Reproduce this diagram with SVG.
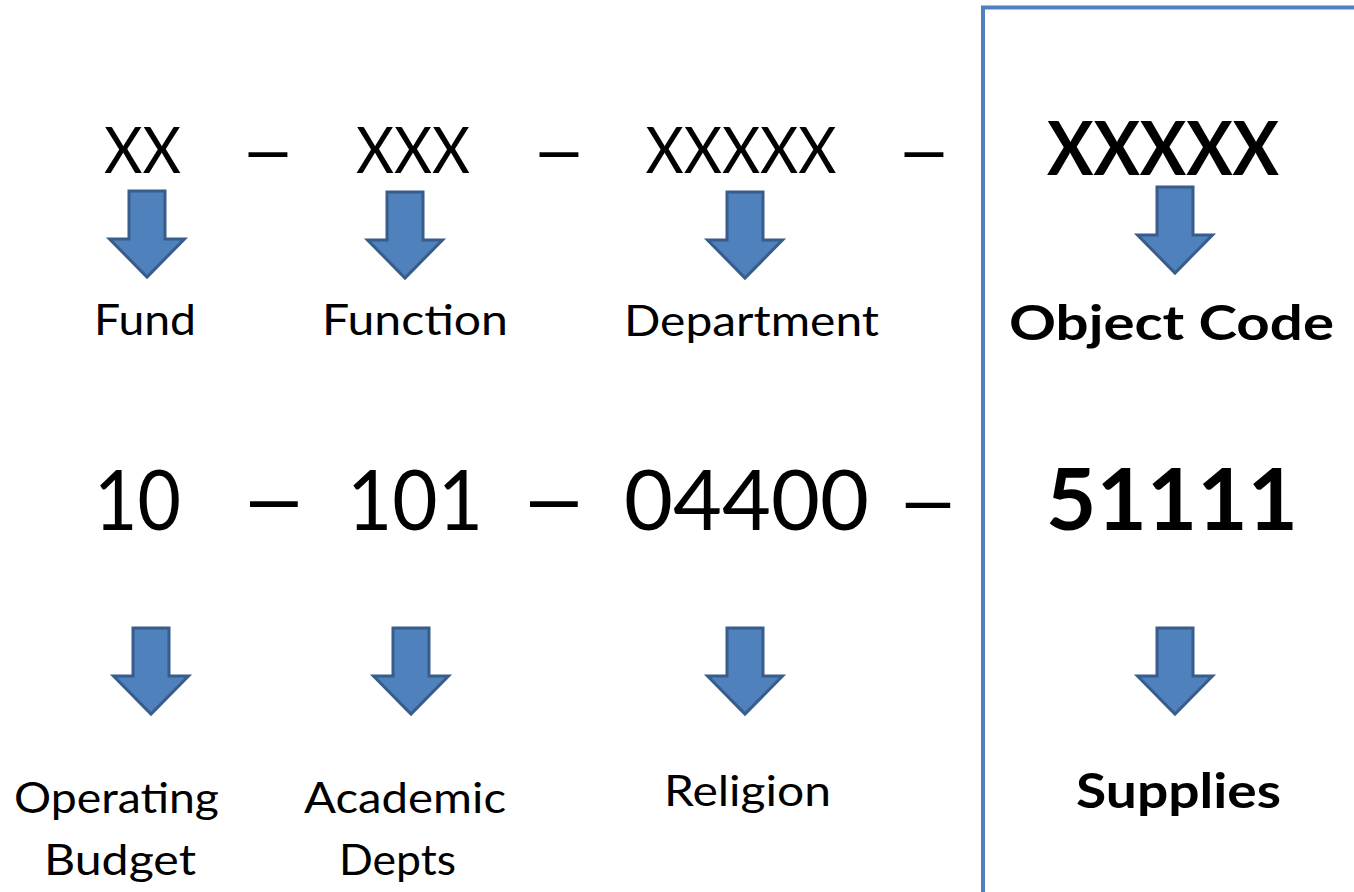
<svg xmlns="http://www.w3.org/2000/svg" xmlns:xlink="http://www.w3.org/1999/xlink" width="1354" height="892" viewBox="0 0 1354 892">
  <style>
    text { font-family: Lato, "Open Sans", "Liberation Sans", sans-serif; fill: #000; text-anchor: middle; }
    .code { font-size: 63px; }
    .codeB { font-size: 74px; font-weight: bold; }
    .lbl { font-size: 42px; }
    .lblB { font-size: 47px; font-weight: bold; }
    .num { font-size: 84px; }
    .numB { font-size: 86px; font-weight: bold; }
    .dash { font-family: "Liberation Sans", Arial, sans-serif; }
    .arrow { fill: #4F81BD; stroke: #385D8A; stroke-width: 3; stroke-linejoin: miter; }
    .frame { fill: none; stroke: #4F81BD; stroke-width: 4; }
  </style>
  <defs>
    <!-- block down-arrow, origin at top centre of the shaft -->
    <path id="down" class="arrow" d="M-18,0 L18,0 L18,48 L37.5,48 L0,86 L-37.5,48 L-18,48 Z"/>
  </defs>
  <rect width="1354" height="892" fill="#fff"/>

  <!-- object code frame -->
  <g id="frame">
    <path class="frame" d="M983,892 L983,7.5 L1354,7.5"/>
  </g>

  <!-- code pattern row -->
  <g id="pattern">
    <text class="code" x="142.5" y="173" textLength="77" lengthAdjust="spacingAndGlyphs">XX</text>
    <text class="dash" x="268" y="173" font-size="70">–</text>
    <text class="code" x="413" y="173" textLength="114" lengthAdjust="spacingAndGlyphs">XXX</text>
    <text class="dash" x="559" y="173" font-size="70">–</text>
    <text class="code" x="741" y="173" textLength="191" lengthAdjust="spacingAndGlyphs">XXXXX</text>
    <text class="dash" x="924" y="173" font-size="70">–</text>
    <text class="codeB" x="1163" y="175" textLength="232" lengthAdjust="spacingAndGlyphs">XXXXX</text>
  </g>

  <!-- segment names -->
  <g id="fund-label"><text class="lbl" x="145" y="335" textLength="102" lengthAdjust="spacingAndGlyphs">Fund</text></g>
  <g id="function-label"><text class="lbl" x="415" y="335" textLength="186" lengthAdjust="spacingAndGlyphs">Function</text></g>
  <g id="department-label"><text class="lbl" x="751.5" y="336" textLength="255" lengthAdjust="spacingAndGlyphs">Department</text></g>
  <g id="object-label"><text class="lblB" x="1171.5" y="340" textLength="325" lengthAdjust="spacingAndGlyphs">Object Code</text></g>

  <!-- example account number -->
  <g id="example">
    <text class="num" x="137.5" y="530" textLength="87" lengthAdjust="spacingAndGlyphs">10</text>
    <text class="dash" x="274" y="526" font-size="86">–</text>
    <text class="num" x="415" y="530" textLength="136" lengthAdjust="spacingAndGlyphs">101</text>
    <text class="dash" x="554" y="526" font-size="86">–</text>
    <text class="num" x="746.5" y="530" textLength="245" lengthAdjust="spacingAndGlyphs">04400</text>
    <text class="dash" x="928" y="526" font-size="80">–</text>
    <text class="numB" x="1172" y="530" textLength="252" lengthAdjust="spacingAndGlyphs">51111</text>
  </g>

  <!-- example meanings -->
  <g id="operating-budget">
    <text class="lbl" x="116.5" y="813" textLength="205" lengthAdjust="spacingAndGlyphs">Operating</text>
    <text class="lbl" x="120" y="875" textLength="152" lengthAdjust="spacingAndGlyphs">Budget</text>
  </g>
  <g id="academic-depts">
    <text class="lbl" x="405" y="813" textLength="202" lengthAdjust="spacingAndGlyphs">Academic</text>
    <text class="lbl" x="397.5" y="875" textLength="117" lengthAdjust="spacingAndGlyphs">Depts</text>
  </g>
  <g id="religion"><text class="lbl" x="747.5" y="806" textLength="167" lengthAdjust="spacingAndGlyphs">Religion</text></g>
  <g id="supplies"><text class="lblB" x="1178.5" y="808" textLength="205" lengthAdjust="spacingAndGlyphs">Supplies</text></g>

  <!-- connectors -->
  <g id="connectors">
    <use xlink:href="#down" x="147" y="191"/>
    <use xlink:href="#down" x="405" y="192"/>
    <use xlink:href="#down" x="745" y="192"/>
    <use xlink:href="#down" x="1175" y="187"/>
    <use xlink:href="#down" x="151" y="628"/>
    <use xlink:href="#down" x="411" y="628"/>
    <use xlink:href="#down" x="745" y="628"/>
    <use xlink:href="#down" x="1175" y="628"/>
  </g>
</svg>
